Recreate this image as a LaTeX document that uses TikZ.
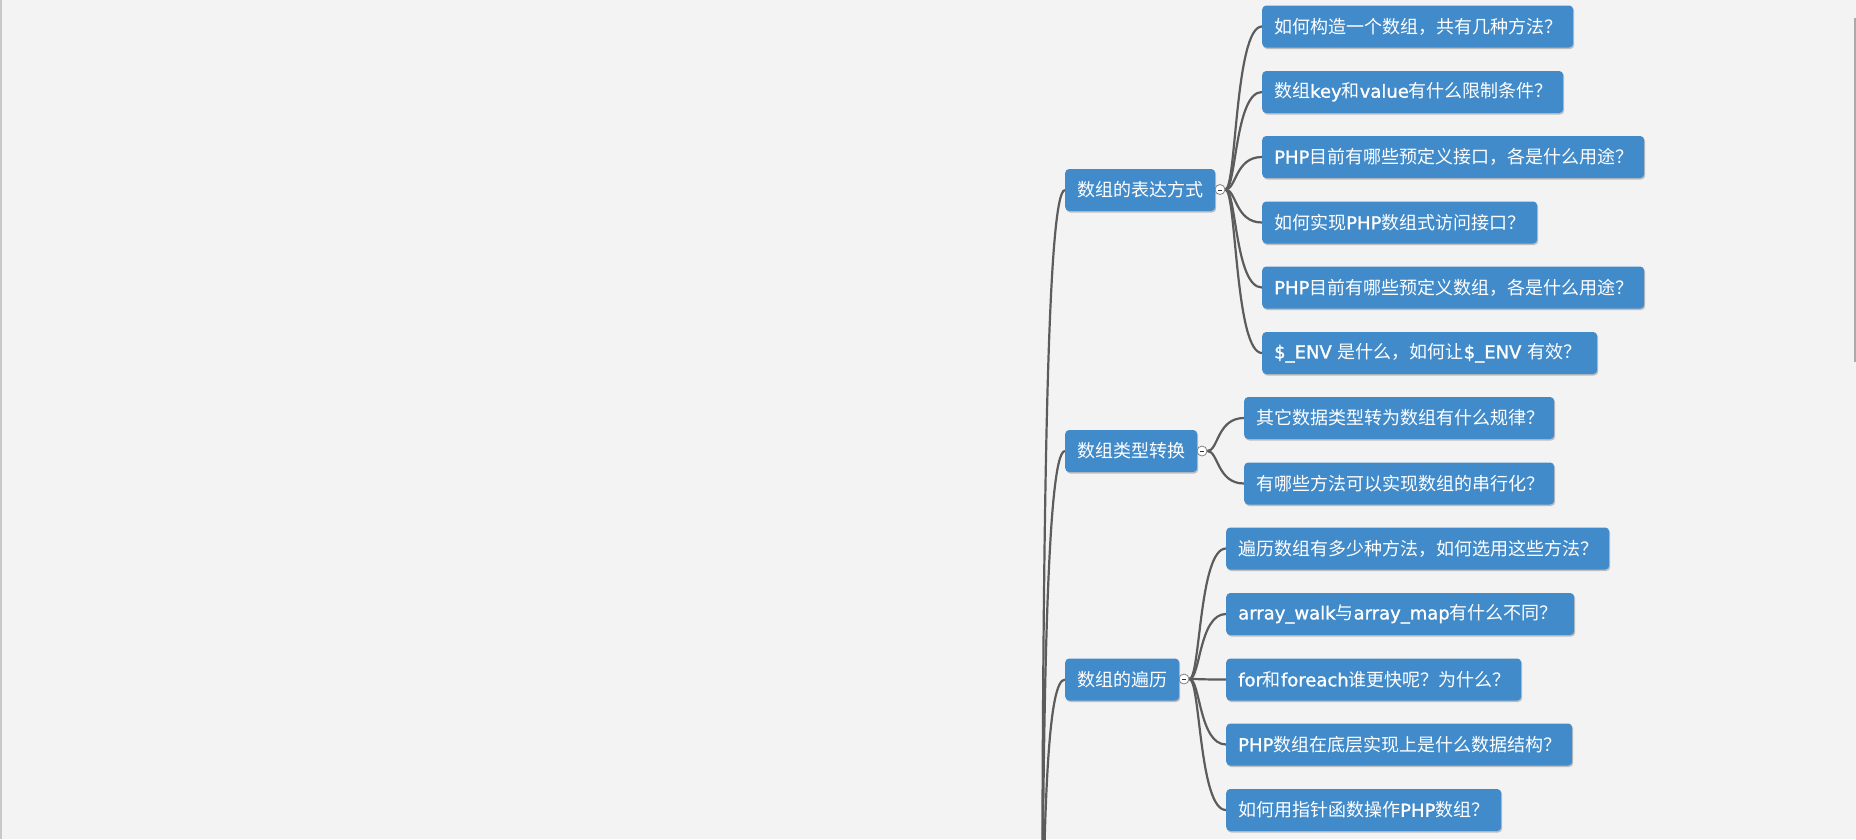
\documentclass[tikz,border=0pt]{standalone}
\usepackage{fontspec}
\setmainfont{Noto Sans CJK SC}
\newfontfamily\latinfam{DejaVu Sans}[FakeBold=1.2]
\newcommand\latn[1]{{\latinfam #1}}
\usetikzlibrary{shadows}
\definecolor{bgc}{HTML}{F3F3F3}
\definecolor{boxc}{HTML}{428BCA}
\definecolor{linec}{HTML}{5C5C5C}
\definecolor{edgel}{HTML}{C8C8C8}
\definecolor{edger}{HTML}{ABABAB}
\definecolor{circc}{HTML}{808080}
\pgfdeclarelayer{bg}
\pgfdeclarelayer{lines}
\pgfsetlayers{bg,lines,main}
\begin{document}
\begin{tikzpicture}[x=1pt,y=-1pt,
  box/.style={fill=boxc, rounded corners=4pt, text=white, minimum height=42pt,
    inner xsep=12pt, inner ysep=0pt, anchor=west, align=left,
    font=\fontsize{18pt}{21pt}\selectfont,
    drop shadow={shadow xshift=1pt, shadow yshift=-1.5pt, fill=black, opacity=0.22}},
  toggle/.style={circle, draw=circc, fill=white, line width=0.8pt, minimum size=10pt, inner sep=0pt},
  conn/.style={draw=linec, line width=2.2pt},
  dashmark/.style={draw=black!80, line width=0.8pt}]
\useasboundingbox (0,0) rectangle (1856,839);
\begin{pgfonlayer}{bg}
  \fill[bgc] (0,0) rectangle (1856,839);
  \draw[edgel, line width=1.5pt] (0.75,0) -- (0.75,839);
  \draw[edger, line width=1.5pt] (1855,18) -- (1855,362);
\end{pgfonlayer}

% parents
\node[box, text width=126pt] (p1) at (1065,190) {数组的表达方式};
\node[box, text width=108pt] (p2) at (1065,451) {数组类型转换};
\node[box, text width=90pt]  (p3) at (1065,679.5) {数组的遍历};

% group 1
\node[box, text width=287pt] (c11) at (1262,26.5) {如何构造一个数组，共有几种方法？};
\node[box, text width=277pt] (c12) at (1262,92) {数组\latn{key}和\latn{value}有什么限制条件？};
\node[box, text width=358pt] (c13) at (1262,157) {\latn{PHP}目前有哪些预定义接口，各是什么用途？};
\node[box, text width=251pt] (c14) at (1262,222.5) {如何实现\latn{PHP}数组式访问接口？};
\node[box, text width=358pt] (c15) at (1262,287.5) {\latn{PHP}目前有哪些预定义数组，各是什么用途？};
\node[box, text width=311pt] (c16) at (1262,353) {\mbox{\latn{\$\_ENV} 是什么，如何让\latn{\$\_ENV} 有效？}};

% group 2
\node[box, text width=286pt] (c21) at (1244,418) {其它数据类型转为数组有什么规律？};
\node[box, text width=286pt] (c22) at (1244,483.5) {有哪些方法可以实现数组的串行化？};

% group 3
\node[box, text width=359pt] (c31) at (1226,548.5) {遍历数组有多少种方法，如何选用这些方法？};
\node[box, text width=324pt] (c32) at (1226,614) {\latn{array\_walk}与\latn{array\_map}有什么不同？};
\node[box, text width=271pt] (c33) at (1226,679.5) {\latn{for}和\latn{foreach}谁更快呢？为什么？};
\node[box, text width=322pt] (c34) at (1226,744.5) {\latn{PHP}数组在底层实现上是什么数据结构？};
\node[box, text width=251pt] (c35) at (1226,810) {如何用指针函数操作\latn{PHP}数组？};

% toggles
\node[toggle] (k1) at (1220,189.5) {};
\node[toggle] (k2) at (1202,451) {};
\node[toggle] (k3) at (1184,679) {};
\foreach \k in {k1,k2,k3}{
  \draw[dashmark] ([xshift=-2pt,yshift=-0.6pt]\k.center) -- ([xshift=2pt,yshift=-0.6pt]\k.center);
}

\coordinate (root) at (1042,1100);

\begin{pgfonlayer}{lines}
  \clip (0,0) rectangle (1856,839);
  % trunk
  \draw[conn] (root) .. controls (1042,550) and (1046,190) .. (p1.west);
  \draw[conn] (root) .. controls (1042,700) and (1047,451) .. (p2.west);
  \draw[conn] (root) .. controls (1042,800) and (1048,679.5) .. (p3.west);
  % group 1
  \foreach \c in {c11,c12,c13,c14,c15,c16}{
    \draw[conn] (k1.east) .. controls +(11,0) and +(-27,0) .. (\c.west);
  }
  \foreach \c in {c21,c22}{
    \draw[conn] (k2.east) .. controls +(11,0) and +(-27,0) .. (\c.west);
  }
  \foreach \c in {c31,c32,c33,c34,c35}{
    \draw[conn] (k3.east) .. controls +(11,0) and +(-27,0) .. (\c.west);
  }
\end{pgfonlayer}
\end{tikzpicture}
\end{document}
